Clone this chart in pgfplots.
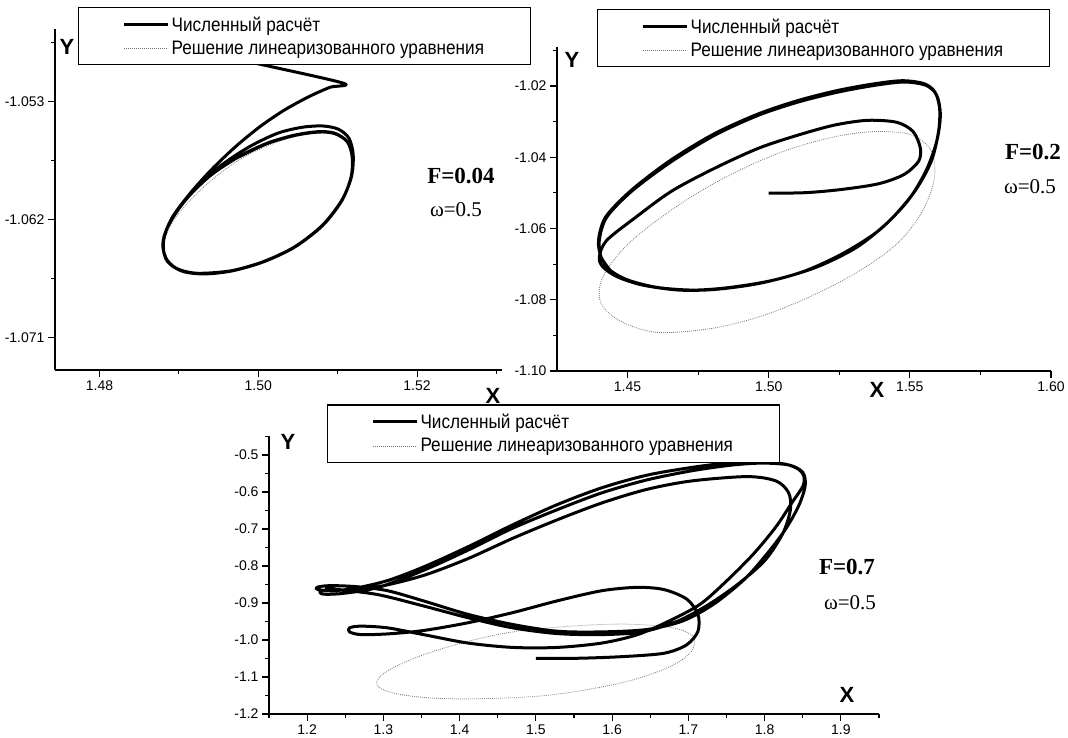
\documentclass[border=0pt]{standalone}
\usepackage{pgfplots}
\pgfplotsset{compat=1.18}
\usepackage{fontspec}
\setmainfont{Liberation Sans}
\newfontfamily\serifont{Liberation Serif}
\newfontfamily\legfont[FakeStretch=0.88]{Liberation Sans}

\pgfplotsset{
  panel/.style={
    scale only axis,
    axis lines=left,
    axis line style={-, line width=1.3pt},
    tick align=outside,
    major tick length=7pt,
    minor tick length=4pt,
    every tick/.style={line width=1.1pt, black},
    ticklabel style={font=\fontsize{14}{16}\selectfont},
    clip=true,
    reverse legend,
    legend cell align=left,
    legend image code/.code={\draw[#1] (0pt,0pt) -- (44pt,0pt);},
    legend style={draw=black, line width=1.1pt, fill=white, inner xsep=44pt, inner ysep=7pt,
      font=\legfont\fontsize{19.5}{22}\selectfont, anchor=north west, row sep=4.5pt,
      /tikz/every even column/.append style={column sep=6pt}},
  },
  numline/.style={black, line width=3pt, smooth, tension=0.5, line join=round},
  linline/.style={black!55, line width=0.8pt, dash pattern=on 0.8pt off 1.2pt, smooth, tension=0.6},
}

\begin{document}
\begin{tikzpicture}
\useasboundingbox (0pt,0pt) rectangle (1068pt,738pt);

% ---------------- Panel 1 : F = 0.04 ----------------
\begin{axis}[panel, at={(55pt,368pt)}, anchor=south west, width=447pt, height=341pt,
  xmin=1.4744, xmax=1.5307, ymin=-1.0735, ymax=-1.04745,
  xtick={1.48,1.50,1.52}, xticklabels={1.48,1.50,1.52},
  minor xtick={1.49,1.51,1.53},
  ytick={-1.071,-1.062,-1.053}, yticklabels={-1.071,-1.062,-1.053},
  minor ytick={-1.0665,-1.0575,-1.0485},
  legend style={at={(0.0515,1.0645)}}]
\addplot[linline] coordinates {
(1.48813,-1.06357) (1.48967,-1.06178) (1.49319,-1.05949) (1.49758,-1.05746)
(1.50198,-1.05618) (1.50550,-1.05555) (1.50813,-1.05537) (1.51033,-1.05555)
(1.51165,-1.05631) (1.51187,-1.05720) (1.51143,-1.05898) (1.51011,-1.06077)
(1.50769,-1.06255) (1.50418,-1.06420) (1.50022,-1.06535) (1.49627,-1.06598)
(1.49275,-1.06616) (1.49011,-1.06591) (1.48857,-1.06522) (1.48804,-1.06433)
(1.48813,-1.06357)};
\addlegendentry{Решение линеаризованного уравнения}
\addplot[numline] coordinates {
(1.49758,-1.04982) (1.50066,-1.05020) (1.51077,-1.05160) (1.50901,-1.05191)
(1.50638,-1.05262) (1.50330,-1.05364) (1.50022,-1.05491) (1.49714,-1.05644)
(1.49407,-1.05822) (1.49143,-1.06000) (1.48923,-1.06178) (1.48813,-1.06331)
(1.48804,-1.06433) (1.48879,-1.06535) (1.49055,-1.06598) (1.49319,-1.06616)
(1.49670,-1.06591) (1.50066,-1.06522) (1.50462,-1.06408) (1.50813,-1.06242)
(1.51055,-1.06051) (1.51174,-1.05873) (1.51196,-1.05707) (1.51143,-1.05580)
(1.51011,-1.05511) (1.50813,-1.05486) (1.50550,-1.05496) (1.50242,-1.05542)
(1.49890,-1.05644) (1.49539,-1.05784) (1.49231,-1.05949) (1.48989,-1.06127)
(1.48844,-1.06280) (1.48800,-1.06408) (1.48857,-1.06522) (1.49033,-1.06591)
(1.49319,-1.06616) (1.49670,-1.06593) (1.50066,-1.06524) (1.50462,-1.06410)
(1.50813,-1.06245) (1.51055,-1.06054) (1.51170,-1.05875) (1.51183,-1.05720)
(1.51121,-1.05606) (1.50967,-1.05542) (1.50769,-1.05529) (1.50462,-1.05555)
(1.50110,-1.05618) (1.49758,-1.05720) (1.49407,-1.05860) (1.49121,-1.06026)
(1.48901,-1.06204) (1.48809,-1.06357) (1.48826,-1.06484) (1.48967,-1.06573)
(1.49231,-1.06611) (1.49670,-1.06591) (1.50066,-1.06522) (1.50462,-1.06408)
(1.50813,-1.06242) (1.51055,-1.06051) (1.51174,-1.05873) (1.51187,-1.05720)
(1.51121,-1.05606) (1.50967,-1.05545) (1.50769,-1.05532) (1.50462,-1.05558)
(1.50110,-1.05621) (1.49758,-1.05722)};
\addlegendentry{Численный расчёт}
\end{axis}

% ---------------- Panel 2 : F = 0.2 ----------------
\begin{axis}[panel, at={(557pt,367pt)}, anchor=south west, width=494pt, height=324.2pt,
  xmin=1.425, xmax=1.60, ymin=-1.10, ymax=-1.009,
  xtick={1.45,1.50,1.55,1.60}, xticklabels={1.45,1.50,1.55,1.60},
  minor xtick={1.475,1.525,1.575},
  ytick={-1.10,-1.08,-1.06,-1.04,-1.02}, yticklabels={-1.10,-1.08,-1.06,-1.04,-1.02},
  minor ytick={-1.09,-1.07,-1.05,-1.03,-1.01},
  legend style={at={(0.081,1.1166)}}]
\addplot[linline] coordinates {
(1.54151,-1.03279) (1.55051,-1.03372) (1.55694,-1.03743) (1.55887,-1.04299)
(1.55758,-1.04948) (1.55308,-1.05689) (1.54537,-1.06431) (1.53252,-1.07173)
(1.51709,-1.07822) (1.50038,-1.08378) (1.48367,-1.08749) (1.46825,-1.08906)
(1.45797,-1.08888) (1.44769,-1.08609) (1.44126,-1.08192) (1.43997,-1.07729)
(1.44255,-1.07173) (1.45026,-1.06431) (1.46182,-1.05689) (1.47596,-1.04948)
(1.49139,-1.04299) (1.50681,-1.03789) (1.52223,-1.03446) (1.53380,-1.03298)
(1.54151,-1.03279)};
\addlegendentry{Решение линеаризованного уравнения}
\addplot[numline] coordinates {
(1.50000,-1.05010) (1.51324,-1.04994) (1.52609,-1.04902) (1.53894,-1.04744)
(1.54794,-1.04484) (1.55308,-1.04114) (1.55372,-1.03743) (1.55115,-1.03279)
(1.54537,-1.03020) (1.53509,-1.02964) (1.52352,-1.03094) (1.51067,-1.03372)
(1.49653,-1.03743) (1.48110,-1.04299) (1.46568,-1.04948) (1.45283,-1.05689)
(1.44255,-1.06338) (1.43997,-1.06802) (1.44126,-1.07080) (1.44640,-1.07358)
(1.45540,-1.07590) (1.46825,-1.07729) (1.48110,-1.07710) (1.49653,-1.07543)
(1.51195,-1.07219) (1.52609,-1.06709) (1.53894,-1.06060) (1.54923,-1.05226)
(1.55565,-1.04392) (1.55951,-1.03557) (1.56080,-1.02816) (1.55951,-1.02260)
(1.55565,-1.01981) (1.54794,-1.01889) (1.53766,-1.01981) (1.52480,-1.02167)
(1.51067,-1.02445) (1.49653,-1.02816) (1.48110,-1.03372) (1.46568,-1.04114)
(1.45154,-1.04948) (1.44255,-1.05689) (1.43997,-1.06338) (1.44062,-1.06802)
(1.44383,-1.07173) (1.45026,-1.07451) (1.46054,-1.07655) (1.47339,-1.07729)
(1.48625,-1.07655) (1.50167,-1.07451) (1.51709,-1.07080) (1.53123,-1.06524)
(1.54280,-1.05782) (1.55180,-1.04948) (1.55758,-1.04114) (1.56015,-1.03279)
(1.56054,-1.02630) (1.55887,-1.02167) (1.55501,-1.01935) (1.54730,-1.01852)
(1.53701,-1.01944) (1.52416,-1.02130) (1.51002,-1.02417) (1.49589,-1.02797)
(1.48046,-1.03353) (1.46504,-1.04095) (1.45129,-1.04929) (1.44229,-1.05671)
(1.43972,-1.06320) (1.44062,-1.06802) (1.44383,-1.07173)};
\addlegendentry{Численный расчёт}
\end{axis}

% ---------------- Panel 3 : F = 0.7 ----------------
\begin{axis}[panel, at={(269pt,24pt)}, anchor=south west, width=610pt, height=277.5pt,
  xmin=1.15, xmax=1.95, ymin=-1.2, ymax=-0.45,
  xtick={1.2,1.3,1.4,1.5,1.6,1.7,1.8,1.9}, xticklabels={1.2,1.3,1.4,1.5,1.6,1.7,1.8,1.9},
  minor xtick={1.15,1.25,1.35,1.45,1.55,1.65,1.75,1.85,1.95},
  ytick={-1.2,-1.1,-1.0,-0.9,-0.8,-0.7,-0.6,-0.5},
  yticklabels={-1.2,-1.1,-1.0,-0.9,-0.8,-0.7,-0.6,-0.5},
  minor ytick={-1.15,-1.05,-0.95,-0.85,-0.75,-0.65,-0.55,-0.45},
  legend style={at={(0.095,1.1155)}}]
\addplot[linline] coordinates {
(1.70847,-0.99908) (1.70379,-1.03102) (1.68036,-1.06751) (1.63349,-1.10401)
(1.57491,-1.13138) (1.50462,-1.15145) (1.42260,-1.15875) (1.36402,-1.15693)
(1.31716,-1.14507) (1.29373,-1.12682) (1.29373,-1.10401) (1.31130,-1.07664)
(1.35231,-1.04014) (1.41089,-1.00365) (1.46947,-0.97810) (1.52805,-0.96532)
(1.58663,-0.95802) (1.63349,-0.95802) (1.68036,-0.96715) (1.70379,-0.98540)
(1.70847,-0.99908)};
\addlegendentry{Решение линеаризованного уравнения}
\addplot[numline] coordinates {
(1.50000,-1.05000) (1.55734,-1.04927) (1.61592,-1.04470) (1.66864,-1.03558)
(1.69793,-1.01277) (1.71258,-0.97627) (1.71258,-0.93065) (1.69793,-0.88959)
(1.66864,-0.86405) (1.63349,-0.85766) (1.58663,-0.86678) (1.52805,-0.89416)
(1.46947,-0.92609) (1.41089,-0.95346) (1.35231,-0.97445) (1.30544,-0.98357)
(1.27030,-0.98540) (1.25565,-0.97810) (1.25565,-0.96715) (1.27030,-0.96259)
(1.30544,-0.96715) (1.35231,-0.98540) (1.41089,-1.00821) (1.46947,-1.02007)
(1.52805,-1.02007) (1.58663,-1.00821) (1.63349,-0.98540) (1.67450,-0.94890)
(1.71550,-0.90328) (1.75065,-0.83941) (1.78580,-0.76642) (1.81509,-0.69343)
(1.83559,-0.62956) (1.85024,-0.58394) (1.85141,-0.55657) (1.84438,-0.53832)
(1.82681,-0.52463) (1.79166,-0.51825) (1.75065,-0.52190) (1.70379,-0.53376)
(1.64521,-0.55474) (1.58663,-0.58850) (1.52805,-0.63412) (1.46947,-0.68887)
(1.41089,-0.74817) (1.35231,-0.80292) (1.30544,-0.83941) (1.26444,-0.85948)
(1.23515,-0.86678) (1.21465,-0.86405) (1.21289,-0.85766) (1.22929,-0.85310)
(1.26444,-0.85584) (1.30544,-0.86678) (1.35231,-0.89416) (1.41089,-0.93065)
(1.46947,-0.95802) (1.52805,-0.97627) (1.58663,-0.97810) (1.64521,-0.97171)
(1.69207,-0.94890) (1.73308,-0.90328) (1.77409,-0.83485) (1.80337,-0.76642)
(1.82681,-0.70255) (1.84438,-0.63868) (1.85317,-0.58394) (1.85024,-0.54744)
(1.83266,-0.52737) (1.79752,-0.52190) (1.75651,-0.52737) (1.70379,-0.54288)
(1.64521,-0.56752) (1.58663,-0.60219) (1.52805,-0.64781) (1.46947,-0.69799)
(1.41089,-0.75730) (1.35231,-0.81204) (1.29373,-0.85766) (1.24686,-0.87408)
(1.22050,-0.87591) (1.21875,-0.86678) (1.24686,-0.86496) (1.29373,-0.85584)
(1.35231,-0.82573) (1.41089,-0.78011) (1.46947,-0.72536) (1.52805,-0.67518)
(1.58663,-0.62956) (1.64521,-0.59306) (1.70379,-0.57025) (1.77701,-0.55839)
(1.81509,-0.57025) (1.83149,-0.60219) (1.83383,-0.64781) (1.82388,-0.71168)
(1.80045,-0.78467) (1.76530,-0.84854) (1.72722,-0.90328) (1.68621,-0.94890)
(1.63935,-0.97810) (1.58663,-0.98540) (1.52805,-0.98266) (1.46947,-0.96715)
(1.41089,-0.93978) (1.35231,-0.90784) (1.29373,-0.87773) (1.24686,-0.86496)
(1.22343,-0.85948)};
\addlegendentry{Численный расчёт}
\end{axis}

% ---------------- Labels ----------------
\begin{scope}[every node/.style={inner sep=0pt}]
\node[font=\fontsize{22}{24}\selectfont\bfseries] at (67pt,691pt) {Y};
\node[font=\fontsize{22}{24}\selectfont\bfseries] at (493pt,342pt) {X};
\node[font=\fontsize{22}{24}\selectfont\bfseries] at (572pt,678pt) {Y};
\node[font=\fontsize{22}{24}\selectfont\bfseries] at (877pt,348pt) {X};
\node[font=\fontsize{22}{24}\selectfont\bfseries] at (288pt,296pt) {Y};
\node[font=\fontsize{22}{24}\selectfont\bfseries] at (847pt,43pt) {X};
\node[font=\serifont\fontsize{23}{25}\selectfont\bfseries] at (461pt,562pt) {F=0.04};
\node[font=\serifont\fontsize{21}{23}\selectfont] at (456pt,528pt) {ω=0.5};
\node[font=\serifont\fontsize{23}{25}\selectfont\bfseries] at (1033pt,586pt) {F=0.2};
\node[font=\serifont\fontsize{21}{23}\selectfont] at (1030pt,551pt) {ω=0.5};
\node[font=\serifont\fontsize{23}{25}\selectfont\bfseries] at (847pt,171pt) {F=0.7};
\node[font=\serifont\fontsize{21}{23}\selectfont] at (850pt,135pt) {ω=0.5};
\end{scope}
\end{tikzpicture}
\end{document}
